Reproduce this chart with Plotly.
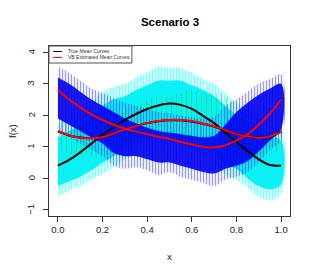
import plotly.graph_objects as go

# ---------------- data ----------------
x_vals = [0.0, 0.05, 0.1, 0.15, 0.2, 0.25, 0.3, 0.35, 0.4, 0.45, 0.5,
          0.55, 0.6, 0.65, 0.7, 0.75, 0.8, 0.85, 0.9, 0.95, 1.0]

# noisy observed curves: outer (spike tips) and dense-core envelopes per cluster
cyan_outer_upper = [1.7, 1.9, 2.1, 2.4, 2.75, 2.9, 3.0, 3.2, 3.35, 3.55, 3.5,
                    3.5, 3.35, 3.15, 3.0, 2.7, 2.4, 2.2, 1.9, 1.7, 1.6]
cyan_outer_lower = [-0.6, -0.4, -0.25, -0.05, 0.15, 0.35, 0.6, 0.8, 0.9, 1.0, 1.1,
                    1.0, 0.9, 0.7, 0.5, 0.1, -0.05, -0.3, -0.6, -0.7, -0.5]
cyan_core_upper = [1.3, 1.5, 1.7, 2.0, 2.3, 2.5, 2.6, 2.8, 2.95, 3.1, 3.1,
                   3.1, 2.95, 2.8, 2.6, 2.3, 2.0, 1.8, 1.5, 1.3, 1.2]
cyan_core_lower = [-0.25, -0.1, 0.05, 0.25, 0.5, 0.7, 0.95, 1.15, 1.25, 1.35, 1.45,
                   1.35, 1.25, 1.05, 0.85, 0.45, 0.3, 0.0, -0.25, -0.35, -0.2]

green_upper = [2.0, 1.9, 1.8, 1.8, 1.9, 2.0, 2.2, 2.3, 2.5, 2.6, 2.6,
               2.7, 2.8, 2.7, 2.7, 2.6, 2.3, 2.0, 1.9, 1.9, 2.0]
green_lower = [0.9, 0.8, 0.75, 0.7, 0.7, 0.8, 0.9, 1.0, 1.1, 1.2, 1.2,
               1.2, 1.1, 1.0, 0.9, 0.8, 0.7, 0.7, 0.7, 0.8, 0.9]

blue_outer_upper = [3.55, 3.35, 3.1, 2.85, 2.7, 2.55, 2.4, 2.3, 2.2, 2.1, 2.05,
                    2.0, 1.95, 1.9, 1.95, 2.3, 2.5, 2.75, 3.0, 3.15, 3.3]
blue_outer_lower = [1.5, 1.3, 1.1, 0.9, 0.7, 0.4, 0.3, 0.35, 0.25, 0.1, 0.2,
                    0.05, -0.05, -0.15, -0.25, -0.05, 0.05, 0.2, 0.5, 0.9, 1.2]
blue_core_upper = [3.2, 3.0, 2.75, 2.5, 2.3, 2.1, 1.9, 1.75, 1.6, 1.5, 1.45,
                   1.4, 1.35, 1.3, 1.35, 1.7, 2.1, 2.4, 2.65, 2.85, 3.0]
blue_core_lower = [1.9, 1.7, 1.5, 1.3, 1.1, 0.8, 0.7, 0.7, 0.6, 0.5, 0.5,
                   0.4, 0.3, 0.2, 0.15, 0.3, 0.4, 0.55, 0.85, 1.2, 1.55]

# true mean curves
true_a = [0.4, 0.58, 0.82, 1.1, 1.38, 1.62, 1.85, 2.04, 2.2, 2.31, 2.37,
          2.33, 2.2, 1.98, 1.75, 1.45, 1.15, 0.86, 0.6, 0.42, 0.4]
true_b = [1.48, 1.36, 1.29, 1.27, 1.3, 1.42, 1.55, 1.66, 1.75, 1.81, 1.84,
          1.84, 1.8, 1.73, 1.64, 1.52, 1.4, 1.32, 1.29, 1.33, 1.47]

# VB estimated mean curves
est_1 = [2.8, 2.5, 2.25, 2.03, 1.85, 1.7, 1.58, 1.48, 1.4, 1.32, 1.25,
         1.15, 1.07, 1.0, 0.98, 1.05, 1.2, 1.4, 1.7, 2.05, 2.5]
est_2 = [1.5, 1.37, 1.28, 1.27, 1.3, 1.42, 1.55, 1.66, 1.75, 1.82, 1.85,
         1.85, 1.82, 1.74, 1.65, 1.53, 1.4, 1.33, 1.28, 1.33, 1.47]

x_ticks = [0.0, 0.2, 0.4, 0.6, 0.8, 1.0]
x_ticklabels = ["0.0", "0.2", "0.4", "0.6", "0.8", "1.0"]
y_ticks = [-1, 0, 1, 2, 3, 4]
y_ticklabels = ["\u22121", "0", "1", "2", "3", "4"]

FONT = "Liberation Sans, Arial, Helvetica, sans-serif"

fig = go.Figure()


def solid_band(upper, lower, color):
    fig.add_trace(go.Scatter(
        x=x_vals + x_vals[::-1], y=upper + lower[::-1],
        mode="lines", line=dict(width=0, shape="spline"),
        fill="toself", fillcolor=color,
        hoverinfo="skip", showlegend=False))


def streak_band(upper, lower, color, solidity, size=3):
    fig.add_trace(go.Scatter(
        x=x_vals + x_vals[::-1], y=upper + lower[::-1],
        mode="lines", line=dict(width=0, shape="spline"),
        fill="toself", fillcolor="rgba(0,0,0,0)",
        fillpattern=dict(shape="|", fgcolor=color, bgcolor="rgba(0,0,0,0)",
                         size=size, solidity=solidity),
        hoverinfo="skip", showlegend=False))


streak_band(cyan_outer_upper, cyan_outer_lower, "#00FFFF", 0.6, 3)
solid_band(cyan_core_upper, cyan_core_lower, "rgba(0,240,245,0.95)")
streak_band(green_upper, green_lower, "#22CC22", 0.18, 5)
streak_band(blue_outer_upper, blue_outer_lower, "#3030FF", 0.45, 3)
solid_band(blue_core_upper, blue_core_lower, "rgba(0,0,240,0.9)")

for ys in (true_a, true_b):
    fig.add_trace(go.Scatter(x=x_vals, y=ys, mode="lines",
                             line=dict(color="black", width=2, shape="spline"),
                             showlegend=False, hoverinfo="skip"))
for ys in (est_1, est_2):
    fig.add_trace(go.Scatter(x=x_vals, y=ys, mode="lines",
                             line=dict(color="red", width=2, shape="spline"),
                             showlegend=False, hoverinfo="skip"))

# manual R-style legend
fig.add_shape(type="rect", xref="paper", yref="paper",
              x0=0.0, x1=0.344, y0=0.9, y1=1.0,
              line=dict(color="#555555", width=1), fillcolor="white", layer="above")
legend_items = [("True Mean Curves", "black", 0.968), ("VB Estimated Mean Curves", "red", 0.933)]
for label, col, yy in legend_items:
    fig.add_shape(type="line", xref="paper", yref="paper",
                  x0=0.017, x1=0.054, y0=yy, y1=yy,
                  line=dict(color=col, width=1), layer="above")
    fig.add_annotation(xref="paper", yref="paper", x=0.07, y=yy, text=label,
                       showarrow=False, xanchor="left", yanchor="middle",
                       font=dict(family=FONT, size=5, color="#333333"))

# R-style rotated y tick labels
for v, t in zip(y_ticks, y_ticklabels):
    fig.add_annotation(xref="paper", yref="y", x=0, y=v, xshift=-18, text=t,
                       textangle=-90, showarrow=False,
                       xanchor="center", yanchor="middle",
                       font=dict(family=FONT, size=9.5, color="#222222"))

# axis titles
fig.add_annotation(xref="paper", yref="paper", x=0.5, y=0, yshift=-40,
                   text="x", showarrow=False, xanchor="center", yanchor="middle",
                   font=dict(family=FONT, size=9.5, color="#222222"))
fig.add_annotation(xref="paper", yref="paper", x=0, y=0.5, xshift=-37,
                   text="f(x)", textangle=-90, showarrow=False,
                   xanchor="center", yanchor="middle",
                   font=dict(family=FONT, size=9.5, color="#222222"))

# the page body has an 8px default margin, so the figure is 8px smaller
fig.update_layout(
    width=308, height=265,
    margin=dict(l=41, r=26, t=38, b=57, autoexpand=False),
    paper_bgcolor="white", plot_bgcolor="white",
    title=dict(text="<b>Scenario 3</b>", x=0.526, xanchor="center",
               y=0.947, yanchor="middle",
               font=dict(family=FONT, size=11.5, color="black")),
    font=dict(family=FONT, size=9.5, color="#222222"),
    xaxis=dict(range=[-0.04, 1.04], tickvals=x_ticks, ticktext=x_ticklabels,
               showgrid=False, zeroline=False, showline=True, mirror=True,
               linecolor="#333333", linewidth=1, ticks="outside", ticklen=5,
               tickcolor="#333333", automargin=False,
               tickfont=dict(size=9.5)),
    yaxis=dict(range=[-1.2, 4.2], tickvals=y_ticks, showticklabels=False,
               showgrid=False, zeroline=False, showline=True, mirror=True,
               linecolor="#333333", linewidth=1, ticks="outside", ticklen=5,
               tickcolor="#333333", automargin=False),
)

fig.write_html("out.html")
